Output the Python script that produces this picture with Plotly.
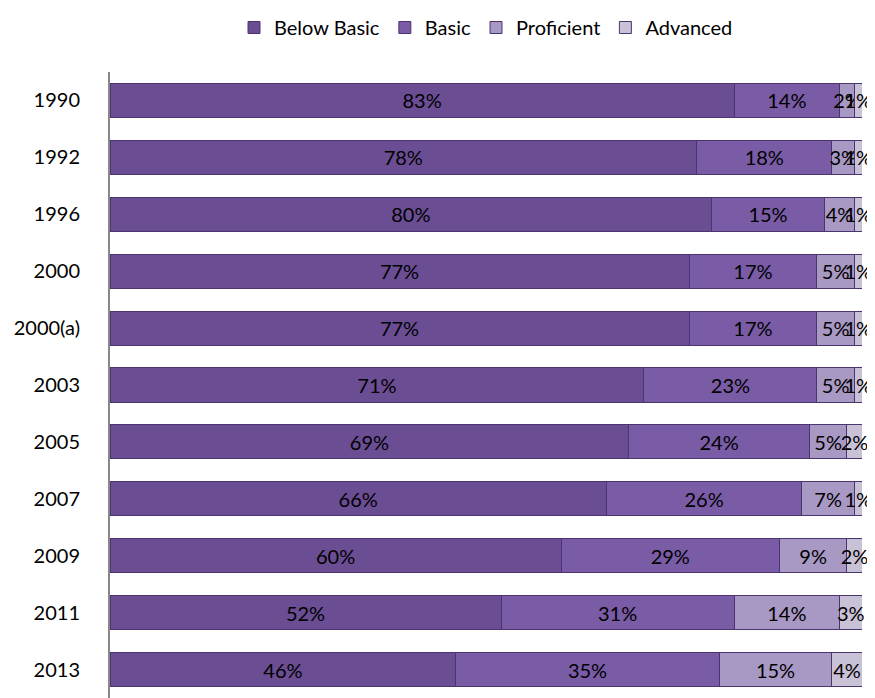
import plotly.graph_objects as go

years = ['1990', '1992', '1996', '2000', '2000(a)', '2003', '2005', '2007', '2009', '2011', '2013']
below_basic = [83, 78, 80, 77, 77, 71, 69, 66, 60, 52, 46]
basic = [14, 18, 15, 17, 17, 23, 24, 26, 29, 31, 35]
proficient = [2, 3, 4, 5, 5, 5, 5, 7, 9, 14, 15]
advanced = [1, 1, 1, 1, 1, 1, 2, 1, 2, 3, 4]

series = [
    ('Below Basic', below_basic, '#6b4d94'),
    ('Basic', basic, '#7a5ba6'),
    ('Proficient', proficient, '#a898c4'),
    ('Advanced', advanced, '#c9c1d6'),
]

fig = go.Figure()
for name, vals, col in series:
    fig.add_trace(go.Bar(
        y=years, x=vals, name=name, orientation='h',
        marker=dict(color=col, line=dict(color='#4b3570', width=1)),
        text=[f'{v}%' for v in vals],
        textposition='inside', insidetextanchor='middle',
        textangle=0, constraintext='none', cliponaxis=False,
        textfont=dict(color='black', size=20),
    ))

# page body has an 8px margin, so the figure is sized to fit the window
fig.update_layout(
    barmode='stack',
    bargap=0.4,
    width=867, height=690,
    margin=dict(l=102, r=13, t=64, b=0),
    plot_bgcolor='white', paper_bgcolor='white',
    font=dict(family='Lato, Liberation Sans, sans-serif', size=20, color='black'),
    uniformtext=dict(mode='show', minsize=20),
    legend=dict(orientation='h', x=0.5, xanchor='center', y=1.0, yanchor='top',
                yref='container', traceorder='normal', font=dict(size=20),
                itemwidth=30),
)
fig.update_xaxes(range=[0, 100], showgrid=False, showticklabels=False, zeroline=False)
fig.update_yaxes(autorange='reversed', showline=True, linecolor='#888888', linewidth=2,
                 ticks='', ticklabelstandoff=24, automargin=False)

fig.write_html("out.html")
